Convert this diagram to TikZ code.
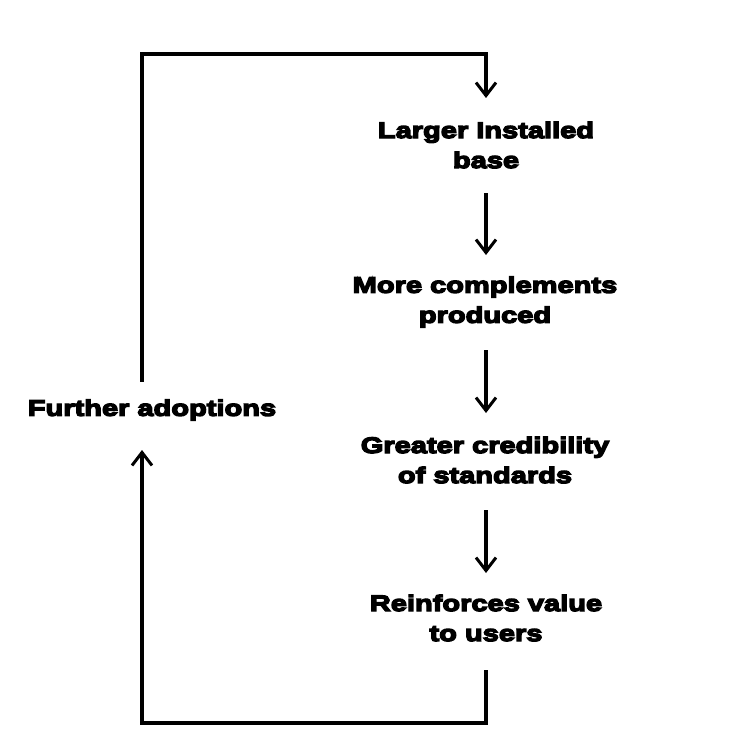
\documentclass[tikz,border=0pt]{standalone}
\usepackage{fontspec}
\setmainfont[BoldFont=Liberation Sans Bold, BoldFeatures={FakeBold=6, FakeStretch=1.29}]{Liberation Sans}
\usetikzlibrary{arrows.meta}
\begin{document}
\begin{tikzpicture}[x=1pt,y=-1pt,
  lbl/.style={font=\fontsize{22.5}{30}\selectfont\bfseries, align=center, inner sep=0pt},
  conn/.style={line width=3.2pt, line cap=rect},
  tipped/.style={conn, -{Straight Barb[length=13pt,width=20pt,line width=3pt]}}]
\fill[white] (0,0) rectangle (743,749);
\useasboundingbox (0,0) rectangle (743,749);
\node[lbl] (a) at (486,145) {Larger Installed\\base};
\node[lbl] (b) at (485,302) {More complements\\produced};
\node[lbl] (c) at (485,460) {Greater credibility\\of standards};
\node[lbl] (d) at (486,618) {Reinforces value\\to users};
\node[lbl] (f) at (152,410) {Further adoptions};
\coordinate (ftop) at (142,380);
\coordinate (tl) at (142,54);
\coordinate (tr) at (486,54);
\coordinate (atop) at (486,98);
\coordinate (dbot) at (486,672);
\coordinate (br) at (486,723);
\coordinate (bl) at (142,723);
\coordinate (fbot) at (142,450);
\draw[tipped] (ftop) -- (tl) -- (tr) -- (atop);
\draw[tipped] (486,195) -- (486,255);
\draw[tipped] (486,352) -- (486,413);
\draw[tipped] (486,512) -- (486,573);
\draw[tipped] (dbot) -- (br) -- (bl) -- (fbot);
\end{tikzpicture}
\end{document}
